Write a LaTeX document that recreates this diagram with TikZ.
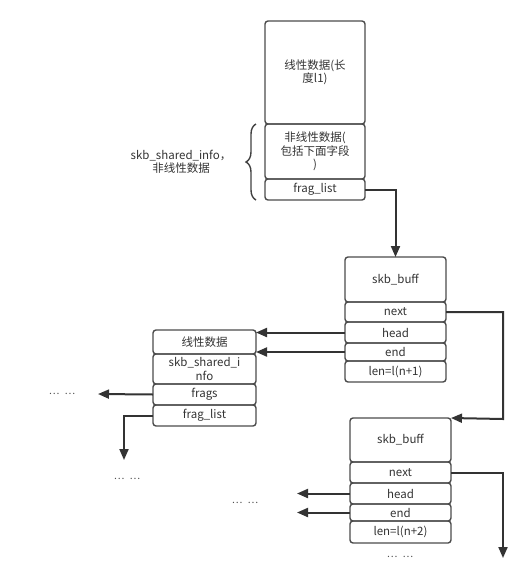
\documentclass[tikz,border=0pt]{standalone}
\usepackage{fontspec}
\setmainfont{Noto Sans CJK SC}
\usetikzlibrary{arrows.meta,decorations.pathreplacing}
\tikzset{
  box/.style={draw=black!70,line width=1.4pt,rounded corners=3pt,inner sep=0pt,outer sep=0pt,align=center,text=black!80,font=\fontsize{11.5}{13.5}\selectfont},
  arr/.style={draw=black!80,line width=2pt,-{Triangle[length=11pt,width=9pt]}},
  dots/.style={font=\fontsize{10}{11}\selectfont,text=black!70}
}
\begin{document}
\begin{tikzpicture}[x=1pt,y=-1pt]
\useasboundingbox (0,0) rectangle (523,587);
% first buffer: linear data and shared info
\node [box,minimum width=100pt,minimum height=103pt] (lin) at (315,72.5) {线性数据(长\\度l1)};
\node [box,minimum width=100pt,minimum height=55pt] (nl) at (315,151.5) {非线性数据(\\包括下面字段\\)};
\node [box,minimum width=100pt,minimum height=21pt] (fl) at (315,189.5) {frag\_list};
\draw [draw=black!75,line width=1.4pt,decorate,decoration={brace,amplitude=10pt}]
  ([xshift=-9pt]fl.south west) -- ([xshift=-9pt]nl.north west);
\node [align=center,text=black!80,font=\fontsize{11.5}{13.5}\selectfont] (info) at (181,162) {skb\_shared\_info，\\非线性数据};
% skb_buff 1
\node [box,minimum width=101pt,minimum height=45pt] (b1) at (395.5,279.5) {skb\_buff};
\node [box,minimum width=101pt,minimum height=20pt] (b1n) at (395.5,312) {next};
\node [box,minimum width=101pt,minimum height=21pt] (b1h) at (395.5,332.5) {head};
\node [box,minimum width=101pt,minimum height=18pt] (b1e) at (395.5,352) {end};
\node [box,minimum width=101pt,minimum height=21pt] (b1l) at (395.5,371.5) {len=l(n+1)};
% left block
\node [box,minimum width=103pt,minimum height=24pt] (lt) at (204.5,342) {线性数据};
\node [box,minimum width=103pt,minimum height=30pt] (ls) at (204.5,369) {skb\_shared\_i\\nfo};
\node [box,minimum width=103pt,minimum height=21pt] (lf) at (204.5,394.5) {frags};
\node [box,minimum width=103pt,minimum height=21pt] (ll) at (204.5,415.5) {frag\_list};
% skb_buff 2
\node [box,minimum width=101pt,minimum height=44pt] (b2) at (400.5,440) {skb\_buff};
\node [box,minimum width=101pt,minimum height=21pt] (b2n) at (400.5,472.5) {next};
\node [box,minimum width=101pt,minimum height=21pt] (b2h) at (400.5,493.5) {head};
\node [box,minimum width=101pt,minimum height=17pt] (b2e) at (400.5,512.5) {end};
\node [box,minimum width=101pt,minimum height=22pt] (b2l) at (400.5,532) {len=l(n+2)};
% dots
\node [dots] (d1) at (62,394) {…\hspace{5pt}…};
\node [dots] (d2) at (127,479) {…\hspace{5pt}…};
\node [dots] (d3) at (245,503) {…\hspace{5pt}…};
\node [dots] (d4) at (400,557) {…\hspace{5pt}…};
\coordinate (c1) at (503,419);
\coordinate (e1) at (98,394);
\coordinate (e2) at (124,460);
\coordinate (e3) at (503,558);
\coordinate (e4) at (297,0);
% arrows
\draw [arr] (fl.east) -| (b1.north);
\draw [arr] (b1n.east) -| (c1) -- (b2.north east);
\draw [arr] (b1h.west) -- (b1h.west -| lt.east);
\draw [arr] (b1e.west) -- (b1e.west -| lt.east);
\draw [arr] (lf.west) -- (e1);
\draw [arr] (ll.west) -| (e2);
\draw [arr] (b2n.east) -| (e3);
\draw [arr] (b2h.west) -- (b2h.west -| e4);
\draw [arr] (b2e.west) -- (b2e.west -| e4);
\end{tikzpicture}
\end{document}
